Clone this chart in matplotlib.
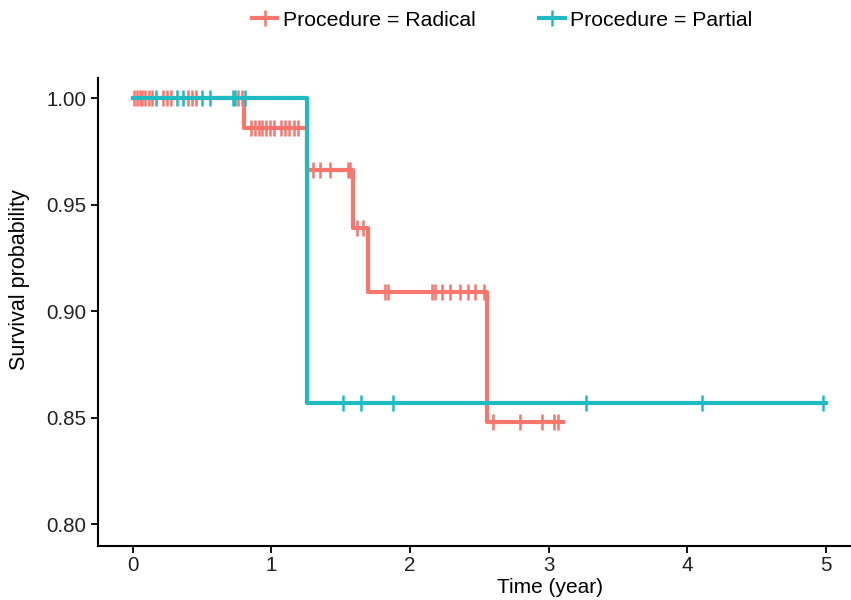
import numpy as np
import matplotlib.pyplot as plt
from matplotlib import font_manager

# Kaplan-Meier steps (time in years, survival after the step)
rad_time = [0.0, 0.80, 1.255, 1.59, 1.70, 2.555, 3.10]
rad_surv = [1.0, 0.986, 0.966, 0.939, 0.909, 0.848, 0.848]
part_time = [0.0, 1.255, 5.0]
part_surv = [1.0, 0.857, 0.857]

# censored observations
rad_cens = [0.01, 0.03, 0.05, 0.07, 0.09, 0.12, 0.14, 0.22, 0.25, 0.28,
            0.40, 0.43, 0.46, 0.76, 0.79,
            0.85, 0.88, 0.91, 0.93, 0.96, 0.99, 1.02, 1.07, 1.10, 1.13,
            1.16, 1.19, 1.25,
            1.30, 1.35, 1.42, 1.55, 1.57, 1.62, 1.66,
            1.82, 1.84, 2.16, 2.18, 2.23, 2.29, 2.36, 2.42, 2.47, 2.53,
            2.60, 2.79, 2.95, 3.04, 3.07]
part_cens = [0.17, 0.32, 0.36, 0.50, 0.56, 0.72, 0.74, 0.81,
             1.515, 1.645, 1.876, 3.27, 4.105, 4.98]

groups = ["Procedure = Radical", "Procedure = Partial"]
colors = ["#F8766D", "#1FBBC1"]

names = {f.name for f in font_manager.fontManager.ttflist}
fam = "Liberation Sans Narrow" if "Liberation Sans Narrow" in names else "Liberation Sans"
plt.rcParams['font.family'] = [fam, 'DejaVu Sans']

fig = plt.figure(figsize=(8.51, 6.0), dpi=100)
ax = fig.add_axes([98 / 851, 1 - 546 / 600, 1 - 98 / 851, (546 - 78) / 600])


def surv_at(times, surv, t):
    idx = np.searchsorted(times, t, side='right') - 1
    return np.array(surv)[idx]


handles = []
for t, s, c, col, lab in [(rad_time, rad_surv, rad_cens, colors[0], groups[0]),
                          (part_time, part_surv, part_cens, colors[1], groups[1])]:
    ax.step(t, s, where='post', color=col, lw=3.0, zorder=3)
    ax.plot(c, surv_at(t, s, c), ls='none', marker='|', ms=12, mew=1.8,
            color=col, zorder=3)
    h, = ax.plot([], [], color=col, lw=3.0, marker='|', ms=12, mew=1.8, label=lab)
    handles.append(h)

ax.set_xlim(-0.25, 5.18)
ax.set_ylim(0.7897, 1.0094)
ax.set_xticks([0, 1, 2, 3, 4, 5])
ax.set_yticks([0.80, 0.85, 0.90, 0.95, 1.00])
ax.set_yticklabels(["0.80", "0.85", "0.90", "0.95", "1.00"])
ax.tick_params(labelsize=14.8, length=5, width=1.3, color='black', labelcolor='#222222')
ax.tick_params(axis='x', pad=2.5)
for side in ['top', 'right']:
    ax.spines[side].set_visible(False)
for side in ['left', 'bottom']:
    ax.spines[side].set_linewidth(1.5)

ax.set_xlabel("Time (year)", fontsize=15)
ax.xaxis.set_label_coords((550 - 98) / 753, (546 - 578) / 468)
ax.set_ylabel("Survival probability", fontsize=15.5)
ax.yaxis.set_label_coords((30 - 98) / 753, (546 - 280) / 468)

fig.legend(handles=handles, loc='center', bbox_to_anchor=(502 / 851, 1 - 20 / 600),
           ncol=2, frameon=False, fontsize=15.3, handlelength=1.2,
           handletextpad=0.25, columnspacing=3.0)

fig.savefig("out.png", dpi=100)
